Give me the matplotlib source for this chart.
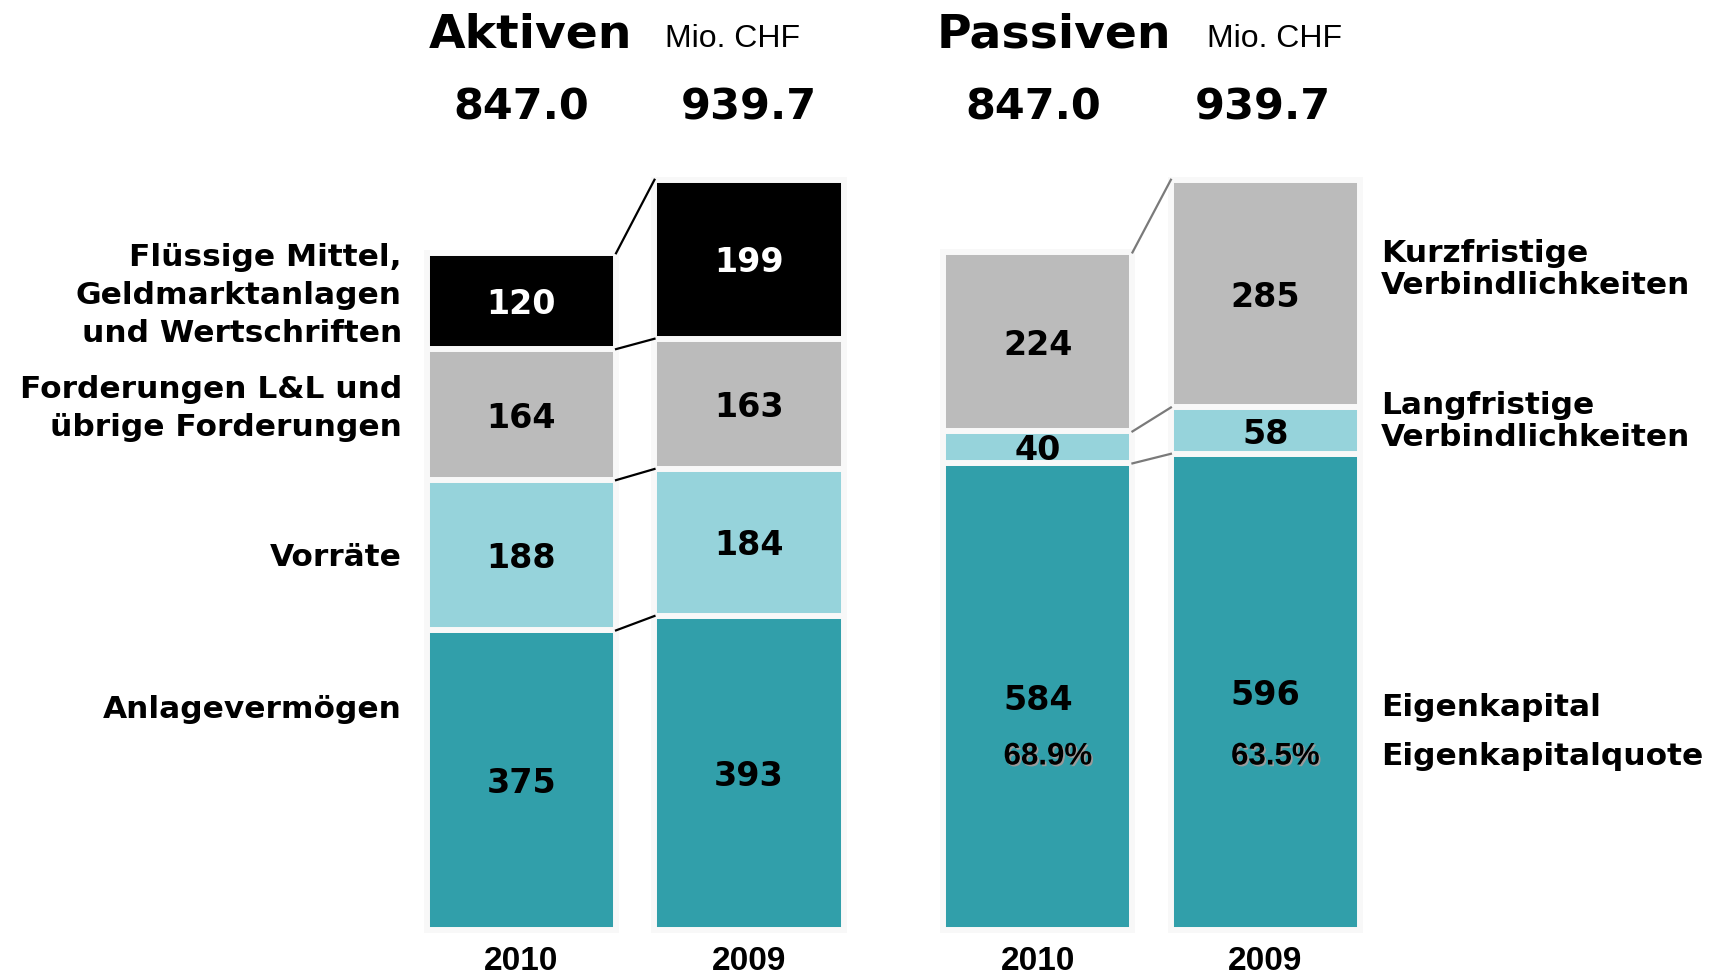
import matplotlib

matplotlib.use("Agg")
import matplotlib.pyplot as plt
import matplotlib.patheffects as pe
from matplotlib.transforms import blended_transform_factory
import numpy as np

plt.rcParams.update({"font.family": "DejaVu Sans"})

# --- Daten (Mio. CHF) ---------------------------------------------------
years = ["2010", "2009"]
totals = [847.0, 939.7]

aktiv_labels = [
    "Anlagevermögen",
    "Vorräte",
    "Forderungen L&L und\nübrige Forderungen",
    "Flüssige Mittel,\nGeldmarktanlagen\nund Wertschriften",
]
aktiv_2010 = [375, 188, 164, 120]
aktiv_2009 = [393, 184, 163, 199]

passiv_labels = [
    "Eigenkapital",
    "Langfristige\nVerbindlichkeiten",
    "Kurzfristige\nVerbindlichkeiten",
]
passiv_2010 = [584, 40, 224]
passiv_2009 = [596, 58, 285]

ek_quote = [68.9, 63.5]

# --- Layout / Stil ------------------------------------------------------
W, H = 1724, 976
TEAL, LIGHT, GREY, BLACK = "#319FAA", "#96D3DB", "#BBBBBB", "#000000"
EDGE = "#F8F8F8"
aktiv_colors = [TEAL, LIGHT, GREY, BLACK]
passiv_colors = [TEAL, LIGHT, GREY]
aktiv_x = [0.0, 1.0]
passiv_x = [2.27, 3.27]
bar_w = 0.831
Y0, SCALE = 930, 0.799   # Pixel der Nulllinie, Pixel je Mio. CHF

fig = plt.figure(figsize=(W / 100, H / 100), dpi=100)
ax = fig.add_axes([0, 0, 1, 1])
ax.set_xlim(-521.5 / 227.5, (W - 521.5) / 227.5)
ax.set_ylim(-(H - Y0) / SCALE, Y0 / SCALE)
ax.axis("off")
blend = blended_transform_factory(ax.transData, fig.transFigure)


def fy(py):
    return 1 - py / H


def stack(xs, series, colors, line_color):
    for x, vals in zip(xs, series):
        vals = np.asarray(vals)
        bottoms = np.concatenate([[0], np.cumsum(vals)[:-1]])
        ax.bar(x, vals, bottom=bottoms, width=bar_w, color=colors,
               edgecolor=EDGE, linewidth=4.3, zorder=2)
        for v, b, c in zip(vals, bottoms, colors):
            ax.text(x, b + v / 2, str(v), ha="center", va="center_baseline",
                    fontsize=24, fontweight="bold",
                    color="white" if c == BLACK else "black", zorder=4)
    # Verbindungslinien zwischen den Jahren
    for a, b in zip(np.cumsum(series[0]), np.cumsum(series[1])):
        ax.plot([xs[0] + bar_w / 2, xs[1] - bar_w / 2], [a, b],
                color=line_color, linewidth=1.6, zorder=3)


stack(aktiv_x, [aktiv_2010, aktiv_2009], aktiv_colors, "black")
stack(passiv_x, [passiv_2010, passiv_2009], passiv_colors, "#7A7A7A")

# Eigenkapitalquote
for x, q in zip(passiv_x, ek_quote):
    ax.text(x + 0.044, fy(753), f"{q:.1f}%", transform=blend,
            ha="center", va="center_baseline", fontsize=22.5,
            fontweight="bold", family="Liberation Sans", zorder=4,
            path_effects=[pe.withSimplePatchShadow(offset=(1.2, -1.2),
                                                   shadow_rgbFace="#9A9A9A",
                                                   alpha=1.0)])

# Titel
fig.text(429 / W, fy(47), "Aktiven", fontsize=34, fontweight="bold",
         ha="left", va="baseline")
fig.text(665 / W, fy(47), "Mio. CHF", fontsize=23, family="Liberation Sans",
         ha="left", va="baseline")
fig.text(937 / W, fy(47), "Passiven", fontsize=34, fontweight="bold",
         ha="left", va="baseline")
fig.text(1207 / W, fy(47), "Mio. CHF", fontsize=23, family="Liberation Sans",
         ha="left", va="baseline")

# Summen und Jahre
for x, t, yr, dx in zip(aktiv_x + passiv_x, totals * 2, years * 2,
                        [0, 0, -0.022, -0.01]):
    ax.text(x + dx, fy(120), f"{t:.1f}", transform=blend, ha="center",
            va="baseline", fontsize=31, fontweight="bold")
    ax.text(x, fy(970), yr, transform=blend, ha="center", va="baseline",
            fontsize=24, fontweight="bold", family="Liberation Sans")


# Beschriftungen links / rechts
def side_label(text, x_px, y_px, step, ha):
    for i, line in enumerate(text.split("\n")):
        fig.text(x_px / W, fy(y_px + i * step), line, ha=ha, va="baseline",
                 fontsize=22.5, fontweight="bold")


for lab, y in zip(aktiv_labels, [718, 566, 398, 266]):
    side_label(lab, 402, y, 38, "right")
for lab, y in zip(passiv_labels, [716, 414, 262]):
    side_label(lab, 1381, y, 32, "left")
side_label("Eigenkapitalquote", 1381, 765, 32, "left")

fig.savefig("out.png", dpi=100)
